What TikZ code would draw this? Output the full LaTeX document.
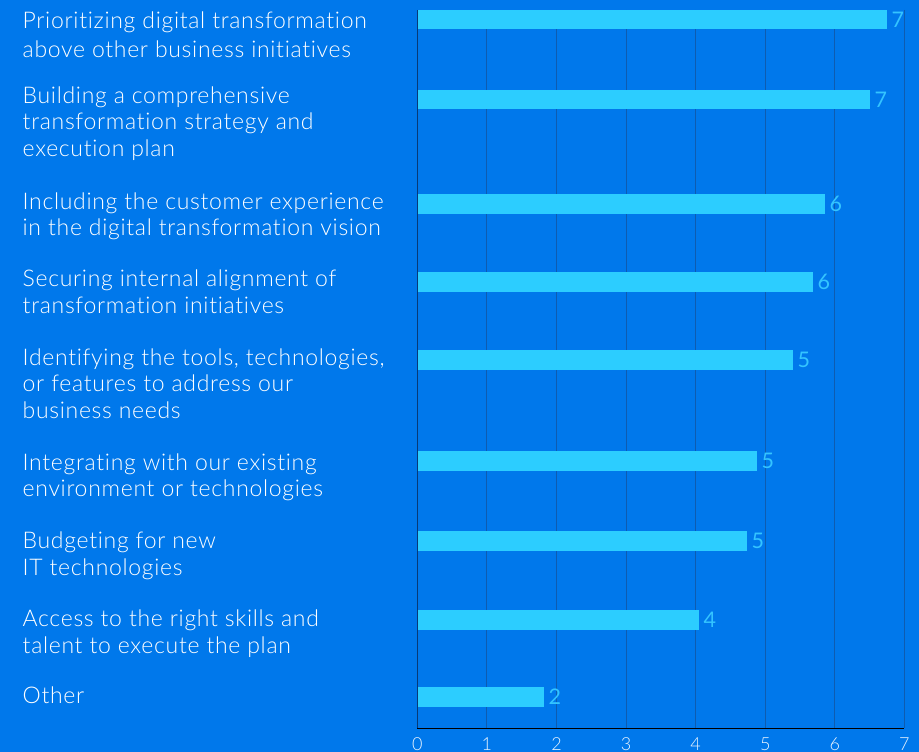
\documentclass[tikz,border=0pt]{standalone}
\usepackage{fontspec}
\setmainfont{Lato Light}[LetterSpace=3, RawFeature={-liga;-dlig}]
\newfontfamily\digitfont{Lato}
\newfontfamily\tickfont{Lato Light}
\usetikzlibrary{positioning}

\definecolor{bgblue}{RGB}{0,120,235}
\definecolor{barcyan}{RGB}{44,205,255}
\definecolor{valcyan}{RGB}{52,196,255}
\definecolor{gridblue}{RGB}{14,92,176}
\definecolor{axisnavy}{RGB}{8,58,118}

\tikzset{
  item/.style={anchor=base west, inner sep=0pt, align=left, text=white, font=\fontsize{23}{26.5}\selectfont},
  bar/.style={fill=barcyan, inner sep=0pt, minimum height=19.5pt, anchor=west},
  val/.style={inner sep=0pt, text=valcyan, font=\digitfont\fontsize{21.5}{21.5}\selectfont},
  tick/.style={inner sep=0pt, text=white!92!bgblue, font=\tickfont\fontsize{18}{18}\selectfont},
  gridline/.style={draw=gridblue, line width=0.9pt}
}

\begin{document}
\begin{tikzpicture}[x=1pt, y=-1pt]
			%%%%% BACKGROUND %%%%%
			\useasboundingbox (0,0) rectangle (919,752);
			\fill[bgblue] (0,0) rectangle (919,752);
			
			%%%%% GRID %%%%%
			\draw[gridline] (486.9,10) -- (486.9,728.3);
			\draw[gridline] (556.5,10) -- (556.5,728.3);
			\draw[gridline] (626.1,10) -- (626.1,728.3);
			\draw[gridline] (695.7,10) -- (695.7,728.3);
			\draw[gridline] (765.3,10) -- (765.3,728.3);
			\draw[gridline] (834.9,10) -- (834.9,728.3);
			\draw[gridline] (904.4,10) -- (904.4,728.3);
			
			%%%%% LABELS (placed at last baseline) %%%%%
			\node[item] (lab1) at (22.5,57.3) {Prioritizing digital transformation\\[2.5pt]above other business initiatives};
			\node[item] (lab2) at (22.5,156) {Building a comprehensive\\transformation strategy and\\execution plan};
			\node[item] (lab3) at (22.5,235.5) {Including the customer experience\\in the digital transformation vision};
			\node[item] (lab4) at (22.5,313) {Securing internal alignment of\\transformation initiatives};
			\node[item] (lab5) at (22.5,418) {Identifying the tools, technologies,\\or features to address our\\business needs};
			\node[item] (lab6) at (22.5,496.7) {Integrating with our existing\\environment or technologies};
			\node[item] (lab7) at (22.5,575) {Budgeting for new\\IT technologies};
			\node[item] (lab8) at (22.5,653.3) {Access to the right skills and\\talent to execute the plan};
			\node[item] (lab9) at (22.5,703.3) {Other};
			
			%%%%% BARS %%%%%
			\node[bar, minimum width=469.7pt] (bar1) at (417.3,19.7) {};
			\node[bar, minimum width=452.7pt] (bar2) at (417.3,99.7) {};
			\node[bar, minimum width=407.7pt] (bar3) at (417.3,204) {};
			\node[bar, minimum width=395.7pt] (bar4) at (417.3,282) {};
			\node[bar, minimum width=375.7pt] (bar5) at (417.3,360) {};
			\node[bar, minimum width=339.7pt] (bar6) at (417.3,461) {};
			\node[bar, minimum width=329.7pt] (bar7) at (417.3,541) {};
			\node[bar, minimum width=281.7pt] (bar8) at (417.3,620) {};
			\node[bar, minimum width=126.7pt] (bar9) at (417.3,697) {};
			
			\node[val, right=4pt of bar1] (val1) {7};
			\node[val, right=4pt of bar2] (val2) {7};
			\node[val, right=4pt of bar3] (val3) {6};
			\node[val, right=4pt of bar4] (val4) {6};
			\node[val, right=4pt of bar5] (val5) {5};
			\node[val, right=4pt of bar6] (val6) {5};
			\node[val, right=4pt of bar7] (val7) {5};
			\node[val, right=4pt of bar8] (val8) {4};
			\node[val, right=4pt of bar9] (val9) {2};
			
			%%%%% AXES %%%%%
			\draw[axisnavy, line width=1.2pt] (417.3,10) -- (417.3,728.3);
			\draw[black, line width=1pt] (417.3,728.3) -- (904.4,728.3);
			
			\node[tick] (t0) at (417.3,743.7) {0};
			\node[tick] (t1) at (486.9,743.7) {1};
			\node[tick] (t2) at (556.5,743.7) {2};
			\node[tick] (t3) at (626.1,743.7) {3};
			\node[tick] (t4) at (695.7,743.7) {4};
			\node[tick] (t5) at (765.3,743.7) {5};
			\node[tick] (t6) at (834.9,743.7) {6};
			\node[tick] (t7) at (904.4,743.7) {7};
			
			%%%%% END %%%%%
		\end{tikzpicture}
\end{document}
